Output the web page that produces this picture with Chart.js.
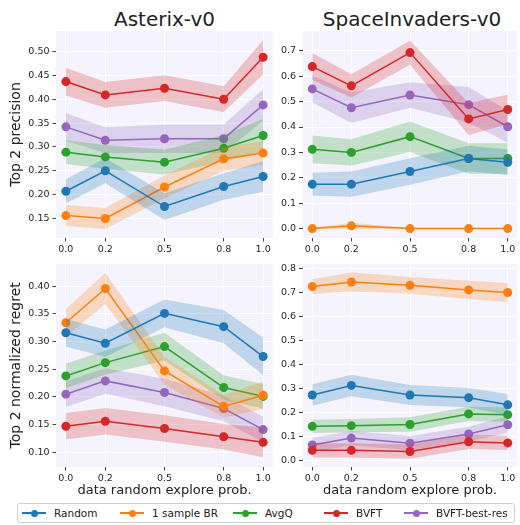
<!DOCTYPE html>
<html lang="en">
<head>
<meta charset="UTF-8" />
<title>Top 2 precision / regret</title>
<script src="https://cdn.jsdelivr.net/npm/chart.js"></script>
<style>
  html, body { margin: 0; padding: 0; background: #fff; }
  body { width: 520px; height: 525px; position: relative; overflow: hidden; font-family: "DejaVu Sans", sans-serif; }
  canvas { position: absolute; }
  .title { position: absolute; top: 7px; font-size: 20px; color: #222; transform: translateX(-50%); white-space: nowrap; line-height: 24px; }
  #legend {
    position: absolute; left: 17px; top: 503px; width: 498px; height: 20px;
    border: 1px solid #d0d0d0; border-radius: 3px; background: #fff; box-sizing: border-box;
  }
  .item { position: absolute; top: 0; height: 18px; display: flex; align-items: center; font-size: 10.5px; color: #222; }
  .swatch { position: relative; width: 24px; height: 18px; margin-right: 8px; }
  .swatch .ln { position: absolute; left: 0; right: 0; top: 8px; height: 1.5px; }
  .swatch .dot { position: absolute; left: 8.5px; top: 5.5px; width: 7px; height: 7px; border-radius: 50%; }
</style>
</head>
<body>
<div class="title" style="left:164.5px">Asterix-v0</div>
<div class="title" style="left:412px">SpaceInvaders-v0</div>

<canvas id="c1" width="278" height="255" style="left:0;top:0"></canvas>
<canvas id="c2" width="252" height="255" style="left:270px;top:0"></canvas>
<canvas id="c3" width="278" height="245" style="left:0;top:255px"></canvas>
<canvas id="c4" width="252" height="245" style="left:270px;top:255px"></canvas>

<div id="legend"></div>

<script>
  // x positions (data random explore prob.)
  const xs = [0.0, 0.2, 0.5, 0.8, 1.0];
  const methods = ['Random', '1 sample BR', 'AvgQ', 'BVFT', 'BVFT-best-res'];

  // Asterix-v0, top 2 precision (rows follow methods)
  const asterixPrecMean = [
    [0.207, 0.250, 0.175, 0.217, 0.238],
    [0.156, 0.150, 0.216, 0.275, 0.287],
    [0.289, 0.279, 0.268, 0.297, 0.324],
    [0.437, 0.409, 0.423, 0.400, 0.488],
    [0.342, 0.314, 0.317, 0.317, 0.388]
  ];
  const asterixPrecErr = [
    [0.025, 0.026, 0.028, 0.028, 0.032],
    [0.022, 0.022, 0.024, 0.025, 0.025],
    [0.025, 0.025, 0.026, 0.028, 0.035],
    [0.029, 0.027, 0.027, 0.027, 0.036],
    [0.029, 0.027, 0.030, 0.030, 0.033]
  ];
  const asterixPrecTicks = [0.15, 0.20, 0.25, 0.30, 0.35, 0.40, 0.45, 0.50];

  // SpaceInvaders-v0, top 2 precision
  const spacePrecMean = [
    [0.175, 0.175, 0.225, 0.276, 0.261],
    [0.000, 0.011, 0.000, 0.000, 0.000],
    [0.312, 0.300, 0.362, 0.276, 0.276],
    [0.638, 0.562, 0.693, 0.432, 0.469],
    [0.550, 0.476, 0.526, 0.488, 0.401]
  ];
  const spacePrecErr = [
    [0.045, 0.050, 0.052, 0.050, 0.050],
    [0.003, 0.012, 0.003, 0.003, 0.003],
    [0.055, 0.052, 0.060, 0.060, 0.060],
    [0.053, 0.046, 0.048, 0.063, 0.058],
    [0.053, 0.060, 0.050, 0.070, 0.063]
  ];
  const spacePrecTicks = [0.0, 0.1, 0.2, 0.3, 0.4, 0.5, 0.6, 0.7];

  // Asterix-v0, top 2 normalized regret
  const asterixRegMean = [
    [0.316, 0.297, 0.351, 0.327, 0.273],
    [0.334, 0.396, 0.247, 0.183, 0.203],
    [0.238, 0.262, 0.291, 0.217, 0.201],
    [0.147, 0.156, 0.143, 0.128, 0.118],
    [0.205, 0.229, 0.208, 0.179, 0.141]
  ];
  const asterixRegErr = [
    [0.025, 0.025, 0.025, 0.030, 0.034],
    [0.025, 0.028, 0.025, 0.020, 0.025],
    [0.022, 0.022, 0.025, 0.022, 0.022],
    [0.024, 0.024, 0.024, 0.023, 0.027],
    [0.023, 0.023, 0.025, 0.023, 0.023]
  ];
  const asterixRegTicks = [0.10, 0.15, 0.20, 0.25, 0.30, 0.35, 0.40];

  // SpaceInvaders-v0, top 2 normalized regret
  const spaceRegMean = [
    [0.272, 0.312, 0.272, 0.261, 0.231],
    [0.725, 0.744, 0.730, 0.711, 0.700],
    [0.141, 0.144, 0.149, 0.193, 0.190],
    [0.041, 0.041, 0.036, 0.077, 0.072],
    [0.063, 0.092, 0.071, 0.109, 0.148]
  ];
  const spaceRegErr = [
    [0.045, 0.045, 0.042, 0.040, 0.045],
    [0.032, 0.040, 0.035, 0.038, 0.040],
    [0.028, 0.028, 0.030, 0.030, 0.030],
    [0.030, 0.030, 0.030, 0.030, 0.030],
    [0.030, 0.030, 0.030, 0.030, 0.035]
  ];
  const spaceRegTicks = [0.0, 0.1, 0.2, 0.3, 0.4, 0.5, 0.6, 0.7, 0.8];

  const colors = ['#1f77b4', '#ff7f0e', '#2ca02c', '#d62728', '#9467bd'];
  const fills = ['rgba(31,119,180,0.25)', 'rgba(255,127,14,0.25)', 'rgba(44,160,44,0.25)',
                 'rgba(214,39,40,0.25)', 'rgba(148,103,189,0.25)'];
  const FONT = '"DejaVu Sans", sans-serif';

  const plotBg = {
    id: 'plotBg',
    beforeDraw(chart) {
      const a = chart.chartArea, ctx = chart.ctx;
      ctx.save();
      ctx.fillStyle = '#f5f4fe';
      ctx.fillRect(a.left, a.top, a.right - a.left, a.bottom - a.top);
      ctx.restore();
    }
  };

  function pts(arr) { return arr.map((v, i) => ({ x: xs[i], y: v })); }

  function makePanel(id, means, errs, yTicks, yMin, yMax, dec, o) {
    const datasets = [];
    means.forEach((m, k) => {
      const e = errs[k];
      datasets.push({
        data: pts(m), borderColor: colors[k], backgroundColor: colors[k],
        borderWidth: 1.5, pointRadius: 4.5, pointHoverRadius: 4.5, pointBorderWidth: 0, fill: false
      });
      datasets.push({
        data: pts(m.map((v, i) => v + e[i])), borderWidth: 0, borderColor: 'transparent',
        pointRadius: 0, backgroundColor: fills[k], fill: '+1'
      });
      datasets.push({
        data: pts(m.map((v, i) => v - e[i])), borderWidth: 0, borderColor: 'transparent',
        pointRadius: 0, fill: false
      });
    });

    new Chart(document.getElementById(id), {
      type: 'line',
      data: { datasets },
      plugins: [plotBg],
      options: {
        responsive: false, animation: false,
        layout: { padding: { top: o.padTop, right: o.padRight, left: 0, bottom: 0 } },
        plugins: { legend: { display: false }, tooltip: { enabled: false } },
        scales: {
          x: {
            type: 'linear', min: -0.05, max: 1.05,
            afterBuildTicks: s => { s.ticks = xs.map(v => ({ value: v })); },
            afterFit: s => { s.height = o.xHeight; },
            ticks: { color: '#262626', font: { family: FONT, size: 9.5 }, padding: 2, maxRotation: 0,
                     callback: v => v.toFixed(1) },
            grid: { color: '#ffffff', lineWidth: 1, tickColor: '#444', tickLength: 3.5 },
            border: { display: false },
            title: { display: !!o.xTitle, text: o.xTitle || '', color: '#222',
                     font: { family: FONT, size: 13 }, padding: { top: 0, bottom: 2 } }
          },
          y: {
            min: yMin, max: yMax,
            afterBuildTicks: s => { s.ticks = yTicks.map(v => ({ value: v })); },
            afterFit: s => { s.width = o.yWidth; },
            ticks: { color: '#262626', font: { family: FONT, size: 9.5 }, padding: 3,
                     callback: v => v.toFixed(dec) },
            grid: { color: '#ffffff', lineWidth: 1, tickColor: '#444', tickLength: 3.5 },
            border: { display: false },
            title: { display: !!o.yTitle, text: o.yTitle || '', color: '#222',
                     font: { family: FONT, size: 14 }, padding: { top: 8, bottom: 0 } }
          }
        }
      }
    });
  }

  makePanel('c1', asterixPrecMean, asterixPrecErr, asterixPrecTicks, 0.109, 0.543, 2,
            { yTitle: 'Top 2 precision', yWidth: 56, xHeight: 17, padTop: 31, padRight: 5 });
  makePanel('c2', spacePrecMean, spacePrecErr, spacePrecTicks, -0.037, 0.778, 1,
            { yWidth: 32.5, xHeight: 17, padTop: 31, padRight: 0 });
  makePanel('c3', asterixRegMean, asterixRegErr, asterixRegTicks, 0.0734, 0.4408, 2,
            { yTitle: 'Top 2 normalized regret', xTitle: 'data random explore prob.',
              yWidth: 56, xHeight: 33, padTop: 5, padRight: 5 });
  makePanel('c4', spaceRegMean, spaceRegErr, spaceRegTicks, -0.0287, 0.8205, 1,
            { xTitle: 'data random explore prob.', yWidth: 32.5, xHeight: 33, padTop: 5, padRight: 0 });

  // legend
  const legendX = [4, 102, 215, 306, 386];
  const legend = document.getElementById('legend');
  methods.forEach((name, k) => {
    const it = document.createElement('div');
    it.className = 'item';
    it.style.left = legendX[k] + 'px';
    it.innerHTML = `<span class="swatch"><span class="ln" style="background:${colors[k]}"></span>` +
                   `<span class="dot" style="background:${colors[k]}"></span></span>${name}`;
    legend.appendChild(it);
  });
</script>
</body>
</html>
